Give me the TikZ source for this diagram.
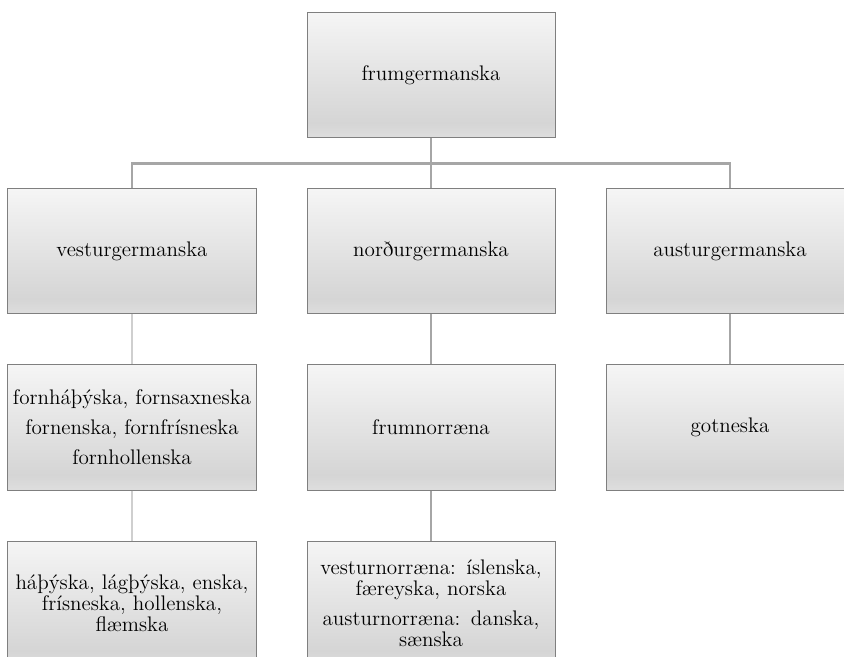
\documentclass[tikz,border=0pt]{standalone}
\usepackage{fontspec}
\usetikzlibrary{positioning,calc}

\definecolor{boxline}{HTML}{7F7F7F}
\definecolor{linkgray}{HTML}{A6A6A6}
\definecolor{linklight}{HTML}{CFCFCF}
\definecolor{shadetop}{HTML}{F5F5F5}
\definecolor{shademid}{HTML}{D5D5D5}
\definecolor{shadebot}{HTML}{DEDEDE}
\pgfdeclareverticalshading{boxshade}{100bp}{color(0bp)=(shadebot); color(25bp)=(shadebot); color(31bp)=(shademid); color(75bp)=(shadetop); color(100bp)=(shadetop)}

\begin{document}
\begin{tikzpicture}[
  node distance=1cm,
  box/.style={rectangle, draw=boxline, line width=0.02cm, shading=boxshade, text width=4.9cm, align=center, minimum width=4.96cm, minimum height=2.5cm, inner xsep=0pt, font=\fontsize{12}{11.95}\selectfont},
  link/.style={draw=linkgray, line width=0.05cm},
  linkl/.style={draw=linklight, line width=0.05cm}
]
\useasboundingbox (0,0) rectangle (16.88,-13.14);

% Nodes
\node[box] (frum) at (8.62,-1.51) {frumgermanska};
\node[box, below=of frum] (nord) {norðurgermanska};
\node[box, left=of nord] (vestur) {vesturgermanska};
\node[box, right=of nord] (austur) {austurgermanska};
\node[box, below=of vestur] (vforn) {fornháþýska, fornsaxneska\\[5.1pt] fornenska, fornfrísneska\\[5.1pt] fornhollenska};
\node[box, below=of nord] (norr) {frumnorræna};
\node[box, below=of austur] (got) {gotneska};
\node[box, below=of vforn] (vnu) {háþýska, lágþýska, enska,\\ frísneska, hollenska,\\ flæmska};
\node[box, below=of norr] (nnu) {vesturnorræna: íslenska,\\ færeyska, norska\\[5.1pt] austurnorræna: danska,\\ sænska};

% Lines
\coordinate (bus) at ($(frum.south)!0.5!(nord.north)$);
\draw[link] (frum.south) -- (nord.north);
\draw[link] (vestur.north) -- (vestur.north |- bus) -- (austur.north |- bus) -- (austur.north);
\draw[linkl] (vestur) -- (vforn);
\draw[linkl] (vforn) -- (vnu);
\draw[link] (nord) -- (norr);
\draw[link] (norr) -- (nnu);
\draw[link] (austur) -- (got);

\end{tikzpicture}
\end{document}
